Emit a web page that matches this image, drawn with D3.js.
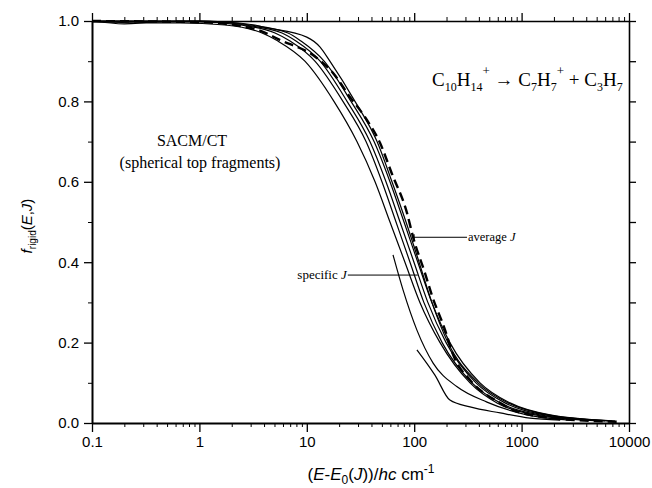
<!DOCTYPE html>
<html>
<head>
<meta charset="utf-8">
<script src="https://cdn.jsdelivr.net/npm/d3@7"></script>
<style>
  body { margin: 0; background: #fff; }
  .tick text { font-family: "Liberation Sans", Arial, sans-serif; font-size: 15px; fill: #000; }
  .serif { font-family: "Liberation Serif", "Times New Roman", serif; fill: #000; }
  .sans { font-family: "Liberation Sans", Arial, sans-serif; fill: #000; }
</style>
</head>
<body>
<div class="canvas"></div>
<script>
// axis values
const xDecades = [0.1, 1, 10, 100, 1000, 10000];
const xLabels = ["0.1", "1", "10", "100", "1000", "10000"];
const yMajor = [0, 0.2, 0.4, 0.6, 0.8, 1.0];
const yMinor = [0.1, 0.3, 0.5, 0.7, 0.9];

// specific J curves, [E-E0 (cm-1), f_rigid]
const curveJ1 = [[0.1,1.0],[0.3,0.995],[0.66,0.995],[1.73,0.99],[3.83,0.97],[5.39,0.95],[9.6,0.9],[17.9,0.8],[29.3,0.7],[43.2,0.6],[59.5,0.5],[82,0.4],[113,0.3],[174,0.2],[331,0.1],[590,0.05],[1333,0.02],[5370,0.005]];
const curveJ2 = [[0.1,0.998],[1.0,0.998],[2.39,0.99],[5.06,0.97],[6.98,0.95],[11.9,0.9],[21.7,0.8],[35.6,0.7],[50.1,0.6],[67.7,0.5],[91.4,0.4],[123,0.3],[182,0.2],[345,0.1],[632,0.05],[1483,0.02],[5980,0.005]];
const curveJ3 = [[0.1,1.0],[0.2,0.993],[0.35,0.997],[1.0,1.0],[2.66,0.99],[5.88,0.97],[7.93,0.95],[13.3,0.9],[23.7,0.8],[38.7,0.7],[54.6,0.6],[73.8,0.5],[99.5,0.4],[134,0.3],[198,0.2],[376,0.1],[700,0.05],[1652,0.02],[6650,0.005]];
const curveJ4 = [[0.1,1.0],[1.0,0.999],[2.96,0.99],[6.68,0.97],[8.83,0.95],[14.5,0.9],[25.8,0.8],[42.3,0.7],[59.5,0.6],[80.4,0.5],[108,0.4],[146,0.3],[215,0.2],[410,0.1],[780,0.05],[1837,0.02],[7410,0.005]];
const curveJ5 = [[0.1,1.0],[1.0,1.0],[3.29,0.99],[3.91,0.985],[10.0,0.96],[13.3,0.935],[16.4,0.9],[28.1,0.8],[45.1,0.7],[62.1,0.6],[83.9,0.5],[111,0.4],[146,0.3],[206,0.2],[393,0.1],[747,0.05],[1762,0.02],[6950,0.005]];
const curveJ6 = [[63.5,0.418],[78.7,0.331],[106,0.231],[150,0.149],[251,0.09],[476,0.052],[1122,0.02],[2825,0.007]];
const curveJ7 = [[106,0.182],[156,0.119],[215,0.057],[331,0.04],[632,0.025],[1197,0.012],[2279,0.007]];
const specificCurves = [curveJ1, curveJ2, curveJ3, curveJ4, curveJ5, curveJ6, curveJ7];

// average J curve (dashed)
const curveAvg = [[0.1,1.0],[1.0,0.997],[3.3,0.98],[5.6,0.953],[12.4,0.908],[17.5,0.871],[25.2,0.811],[35,0.76],[48,0.697],[62,0.62],[85.8,0.522],[97.5,0.463],[126,0.373],[146,0.318],[194,0.231],[230,0.17],[331,0.107],[632,0.05],[833,0.032],[2279,0.01],[8240,0.003]];

const dims = {width: 652, height: 488};
const margin = {left: 92, right: 23, top: 21, bottom: 65};

const svg = d3.select(".canvas").append("svg")
  .attr("width", dims.width)
  .attr("height", dims.height);

const x = d3.scaleLog().domain([0.1, 10000]).range([margin.left, dims.width - margin.right]);
const y = d3.scaleLinear().domain([0, 1]).range([dims.height - margin.bottom, margin.top]);

const xMinor = [];
xDecades.slice(0, -1).forEach(d => { for (let k = 2; k <= 9; k++) xMinor.push(d * k); });

const fmtX = d => xLabels[xDecades.indexOf(d)];

// axes
const styleAxis = (g, w) => {
  g.select(".domain").attr("stroke-width", w);
  g.selectAll(".tick line").attr("stroke-width", 1.3);
};

svg.append("g").attr("transform", `translate(0,${y(0)})`)
  .call(d3.axisBottom(x).tickValues(xMinor).tickSize(4).tickSizeOuter(0).tickFormat(""))
  .call(g => g.select(".domain").remove());
svg.append("g").attr("transform", `translate(0,${y(0)})`)
  .call(d3.axisBottom(x).tickValues(xDecades).tickSize(9).tickSizeOuter(0).tickPadding(4).tickFormat(fmtX))
  .call(g => styleAxis(g, 2));

svg.append("g").attr("transform", `translate(0,${y(1)})`)
  .call(d3.axisTop(x).tickValues(xMinor).tickSize(4).tickSizeOuter(0).tickFormat(""))
  .call(g => g.select(".domain").remove());
svg.append("g").attr("transform", `translate(0,${y(1)})`)
  .call(d3.axisTop(x).tickValues(xDecades).tickSize(8).tickSizeOuter(0).tickFormat(""))
  .call(g => styleAxis(g, 1.6));

svg.append("g").attr("transform", `translate(${x(0.1)},0)`)
  .call(d3.axisLeft(y).tickValues(yMinor).tickSize(4).tickSizeOuter(0).tickFormat(""))
  .call(g => g.select(".domain").remove());
svg.append("g").attr("transform", `translate(${x(0.1)},0)`)
  .call(d3.axisLeft(y).tickValues(yMajor).tickSize(8).tickSizeOuter(0).tickPadding(5).tickFormat(d3.format(".1f")))
  .call(g => styleAxis(g, 2));

svg.append("g").attr("transform", `translate(${x(10000)},0)`)
  .call(d3.axisRight(y).tickValues(yMajor.concat(yMinor)).tickSize(7).tickSizeOuter(0).tickFormat(""))
  .call(g => styleAxis(g, 1.6));

// curves
const line = d3.line().x(d => x(d[0])).y(d => y(d[1])).curve(d3.curveMonotoneX);

svg.append("g").selectAll("path").data(specificCurves).enter().append("path")
  .attr("d", line)
  .attr("fill", "none")
  .attr("stroke", "#000")
  .attr("stroke-width", 1.2);

svg.append("path")
  .attr("d", line(curveAvg))
  .attr("fill", "none")
  .attr("stroke", "#000")
  .attr("stroke-width", 2.4)
  .attr("stroke-dasharray", "9,5");

// annotations
svg.append("text").attr("class", "serif").attr("x", 192).attr("y", 146)
  .attr("text-anchor", "middle").attr("font-size", 16).text("SACM/CT");
svg.append("text").attr("class", "serif").attr("x", 200).attr("y", 168)
  .attr("text-anchor", "middle").attr("font-size", 16).text("(spherical top fragments)");

const formula = svg.append("text").attr("class", "serif").attr("x", 432).attr("y", 86).attr("font-size", 19);
formula.append("tspan").text("C");
formula.append("tspan").attr("font-size", 12).attr("dy", 5).text("10");
formula.append("tspan").attr("dy", -5).text("H");
formula.append("tspan").attr("font-size", 12).attr("dy", 5).text("14");
formula.append("tspan").attr("font-size", 13).attr("dy", -16).text("+");
formula.append("tspan").attr("dy", 11).text(" \u2192 C");
formula.append("tspan").attr("font-size", 12).attr("dy", 5).text("7");
formula.append("tspan").attr("dy", -5).text("H");
formula.append("tspan").attr("font-size", 12).attr("dy", 5).text("7");
formula.append("tspan").attr("font-size", 13).attr("dy", -16).text("+");
formula.append("tspan").attr("dy", 11).text(" + C");
formula.append("tspan").attr("font-size", 12).attr("dy", 5).text("3");
formula.append("tspan").attr("dy", -5).text("H");
formula.append("tspan").attr("font-size", 12).attr("dy", 5).text("7");

// average J pointer
const avgTip = [97.5, 0.462];
svg.append("line").attr("x1", x(avgTip[0])).attr("y1", y(avgTip[1]))
  .attr("x2", x(avgTip[0]) + 54).attr("y2", y(avgTip[1]))
  .attr("stroke", "#000").attr("stroke-width", 1);
svg.append("line").attr("x1", x(avgTip[0]) + 1).attr("y1", y(avgTip[1]) - 3)
  .attr("x2", x(avgTip[0]) + 1).attr("y2", y(avgTip[1]) + 3)
  .attr("stroke", "#000").attr("stroke-width", 1.2);
const avgLbl = svg.append("text").attr("class", "serif").attr("x", x(avgTip[0]) + 55).attr("y", y(avgTip[1]) + 4)
  .attr("font-size", 12.5);
avgLbl.append("tspan").text("average ");
avgLbl.append("tspan").attr("font-style", "italic").text("J");

// specific J pointer
const specTip = [108, 0.368];
svg.append("line").attr("x1", x(specTip[0])).attr("y1", y(specTip[1]))
  .attr("x2", x(specTip[0]) - 70).attr("y2", y(specTip[1]))
  .attr("stroke", "#000").attr("stroke-width", 1);
const specLbl = svg.append("text").attr("class", "serif").attr("x", x(specTip[0]) - 71).attr("y", y(specTip[1]) + 4)
  .attr("text-anchor", "end").attr("font-size", 13);
specLbl.append("tspan").text("specific ");
specLbl.append("tspan").attr("font-style", "italic").text("J");

// axis titles
const xt = svg.append("text").attr("class", "sans").attr("x", 371).attr("y", 480)
  .attr("text-anchor", "middle").attr("font-size", 17);
xt.append("tspan").text("(");
xt.append("tspan").attr("font-style", "italic").text("E");
xt.append("tspan").text("-");
xt.append("tspan").attr("font-style", "italic").text("E");
xt.append("tspan").attr("font-size", 12).attr("dy", 4).text("0");
xt.append("tspan").attr("dy", -4).text("(");
xt.append("tspan").attr("font-style", "italic").text("J");
xt.append("tspan").text("))/");
xt.append("tspan").attr("font-style", "italic").text("hc");
xt.append("tspan").text(" cm");
xt.append("tspan").attr("font-size", 12).attr("dy", -7).text("-1");

const yt = svg.append("text").attr("class", "sans")
  .attr("transform", `translate(32,226) rotate(-90)`)
  .attr("text-anchor", "middle").attr("font-size", 15);
yt.append("tspan").attr("font-style", "italic").text("f");
yt.append("tspan").attr("font-size", 10).attr("dy", 4).text("rigid");
yt.append("tspan").attr("dy", -4).text("(");
yt.append("tspan").attr("font-style", "italic").text("E");
yt.append("tspan").text(",");
yt.append("tspan").attr("font-style", "italic").text("J");
yt.append("tspan").text(")");
</script>
</body>
</html>
